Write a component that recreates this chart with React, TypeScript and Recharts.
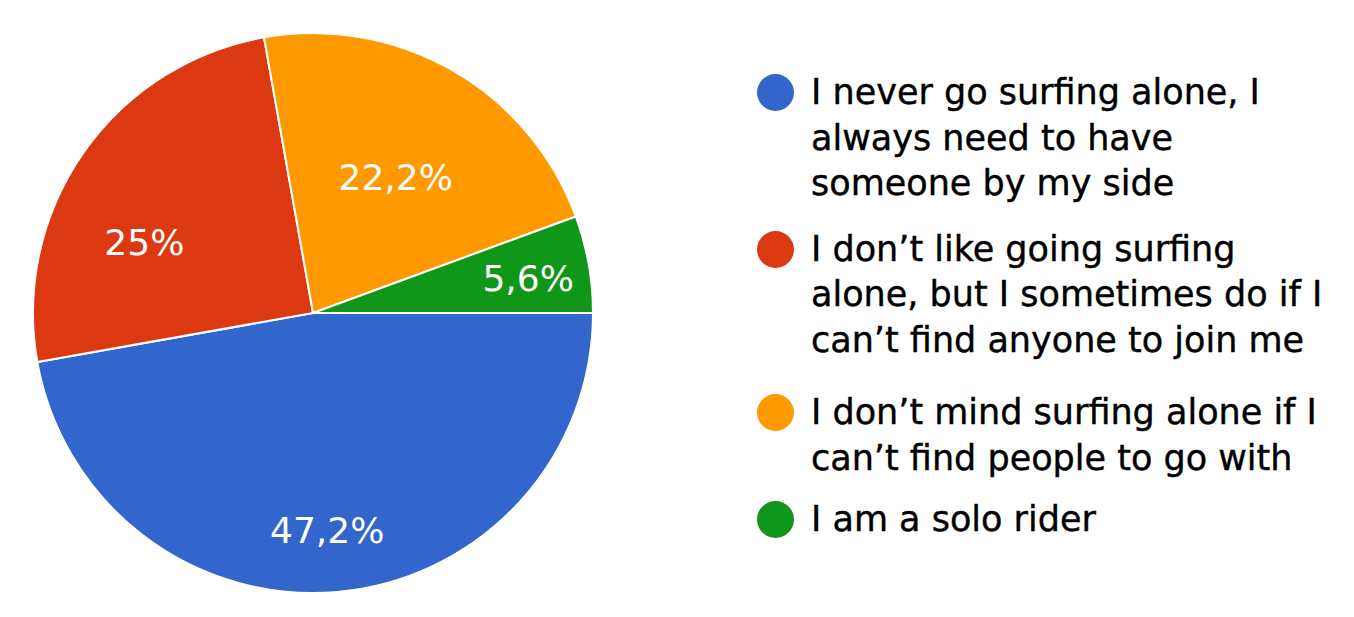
import React from "react";
import { PieChart, Pie, Cell, Legend } from "recharts";

const answers = [
  "I never go surfing alone, I always need to have someone by my side",
  "I don’t like going surfing alone, but I sometimes do if I can’t find anyone to join me",
  "I don’t mind surfing alone if I can’t find people to go with",
  "I am a solo rider",
];
const shares = [47.2, 25, 22.2, 5.6];
const shareLabels = ["47,2%", "25%", "22,2%", "5,6%"];
const colors = ["#3366CC", "#DC3912", "#FF9900", "#109618"];

const legendLines = [
  ["I never go surfing alone, I", "always need to have", "someone by my side"],
  ["I don’t like going surfing", "alone, but I sometimes do if I", "can’t find anyone to join me"],
  ["I don’t mind surfing alone if I", "can’t find people to go with"],
  ["I am a solo rider"],
];

const data = answers.map((name, i) => ({ name, value: shares[i], label: shareLabels[i] }));

const FONT = "'DejaVu Sans', Verdana, sans-serif";
const RAD = Math.PI / 180;
// where each percentage sits: fraction of radius, and nudge off the mid angle
const labelDepth = [0.78, 0.653, 0.566, 0.778];
const labelTurn = [-1.3, 12.2, -1.6, -1];
// space below each legend entry
const entryGap = [20, 27, 16, 0];

function renderLabel(props: any) {
  const { cx, cy, midAngle, outerRadius, index } = props;
  const r = outerRadius * labelDepth[index];
  const a = (midAngle + labelTurn[index]) * RAD;
  const x = cx + r * Math.cos(a);
  const y = cy - r * Math.sin(a);
  return (
    <text
      x={x}
      y={y}
      fill="#fff"
      fontSize={36}
      fontFamily={FONT}
      textAnchor="middle"
      dominantBaseline="central"
    >
      {shareLabels[index]}
    </text>
  );
}

function LegendBox() {
  return (
    <div style={{ fontFamily: FONT, fontSize: 35, color: "#000", WebkitTextStroke: "0.4px #000" }}>
      {legendLines.map((lines, i) => (
        <div key={i} style={{ display: "flex", alignItems: "flex-start", marginBottom: entryGap[i] }}>
          <span
            style={{
              width: 37,
              height: 37,
              borderRadius: "50%",
              background: colors[i],
              flex: "none",
              marginTop: 4,
              marginRight: 17,
            }}
          />
          <div style={{ lineHeight: "45.5px" }}>
            {lines.map((l, j) => (
              <div key={j} style={{ whiteSpace: "nowrap" }}>{l}</div>
            ))}
          </div>
        </div>
      ))}
    </div>
  );
}

export default function App() {
  return (
    <div style={{ position: "absolute", left: 0, top: 0, width: 1354, height: 617, background: "#fff" }}>
      <PieChart width={1354} height={617} margin={{ top: 0, right: 0, bottom: 0, left: 0 }}>
        <Pie
          data={data}
          dataKey="value"
          nameKey="name"
          cx={313}
          cy={313}
          outerRadius={280}
          startAngle={0}
          endAngle={-360}
          stroke="#fff"
          strokeWidth={2}
          label={renderLabel}
          labelLine={false}
          isAnimationActive={false}
        >
          {data.map((d, i) => (
            <Cell key={d.name} fill={colors[i]} />
          ))}
        </Pie>
        <Legend
          content={<LegendBox />}
          layout="vertical"
          wrapperStyle={{ position: "absolute", left: 757, top: 70, width: 590 }}
        />
      </PieChart>
    </div>
  );
}
